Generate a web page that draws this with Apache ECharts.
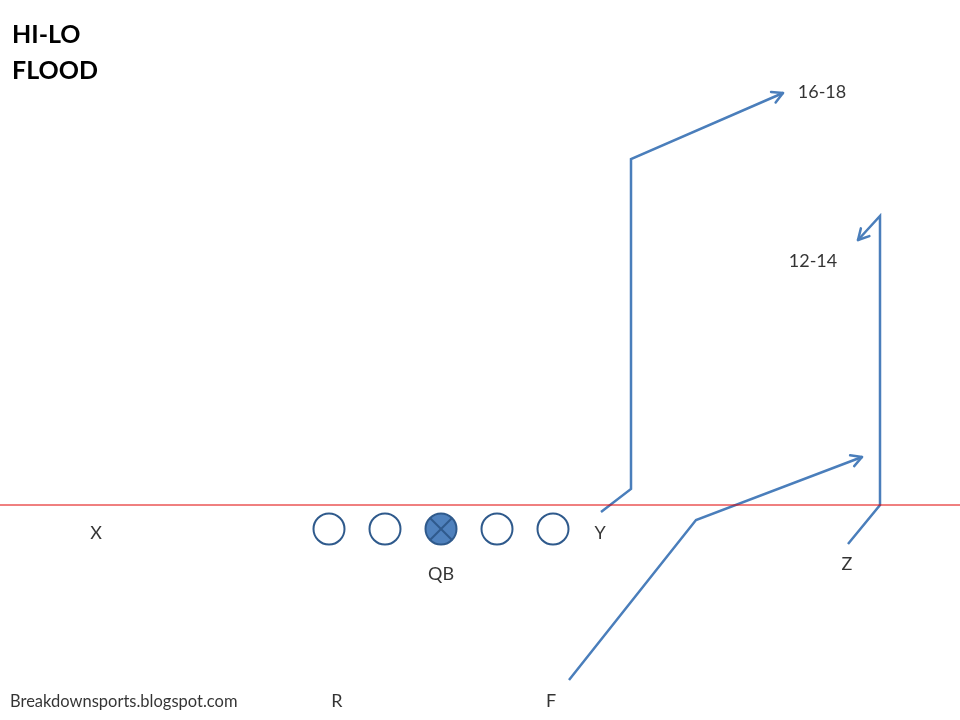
<!DOCTYPE html>
<html>
<head>
<meta charset="UTF-8">
<style>
  html, body { margin: 0; padding: 0; background: #fff; }
  #chartArea { width: 960px; height: 720px; }
</style>
</head>
<body>
<div id="chartArea"></div>
<script src="https://cdn.jsdelivr.net/npm/echarts@6/dist/echarts.min.js"></script>
<script>
// field coordinates (x to the right, y downward like the slide)
var scrimmageY = 505;
var linemen = [[329, 529], [385, 529], [497, 529], [553, 529]];
var qb = [[441, 529]];
var routeY = [[601, 512], [631, 489], [631, 159], [783, 93]];
var routeZ = [[848, 544], [880, 505], [880, 216], [858, 240]];
var routeF = [[569, 680], [696, 520], [862, 457]];
var playerLabels = [
    ['X', 96, 533], ['Y', 600, 533], ['Z', 847, 564], ['QB', 441, 574],
    ['R', 337, 701], ['F', 551, 701], ['16-18', 822, 92], ['12-14', 813, 261]
];
var credit = ['Breakdownsports.blogspot.com', 10, 702];

var blue = '#4a7ebb';

// open "V" head at the end of a route, built from its last leg
function arrowHead(route) {
    var a = route[route.length - 2], b = route[route.length - 1];
    var ang = Math.atan2(b[1] - a[1], b[0] - a[0]);
    var len = 12, spread = 0.5;
    return [
        { coords: [[b[0] - len * Math.cos(ang - spread), b[1] - len * Math.sin(ang - spread)], b] },
        { coords: [[b[0] - len * Math.cos(ang + spread), b[1] - len * Math.sin(ang + spread)], b] }
    ];
}

var myChart = echarts.init(document.getElementById('chartArea'));
myChart.setOption({
    animation: false,
    title: {
        text: 'HI-LO\nFLOOD',
        left: 7, top: 12,
        textStyle: { fontFamily: 'Lato', fontSize: 25, fontWeight: 'bold', color: '#000', lineHeight: 36 }
    },
    grid: { left: 0, right: 0, top: 0, bottom: 0 },
    xAxis: { type: 'value', min: 0, max: 960, show: false },
    yAxis: { type: 'value', min: 0, max: 720, inverse: true, show: false },
    series: [
        {
            type: 'line', silent: true, symbol: 'none', color: '#e00000',
            lineStyle: { color: '#e00000', width: 1 },
            data: [[0, scrimmageY], [960, scrimmageY]]
        },
        {
            type: 'lines', coordinateSystem: 'cartesian2d', polyline: true, silent: true,
            lineStyle: { color: blue, width: 2.5, opacity: 1 },
            data: [{ coords: routeY }, { coords: routeZ }, { coords: routeF }]
        },
        {
            type: 'lines', coordinateSystem: 'cartesian2d', silent: true,
            lineStyle: { color: blue, width: 2.5, opacity: 1, cap: 'round' },
            data: arrowHead(routeY).concat(arrowHead(routeZ), arrowHead(routeF))
        },
        {
            type: 'scatter', symbol: 'circle', symbolSize: 31, silent: true,
            itemStyle: { color: '#fff', borderColor: '#2f5a8c', borderWidth: 2, opacity: 1 },
            data: linemen
        },
        {
            type: 'scatter', symbol: 'circle', symbolSize: 31, silent: true,
            itemStyle: { color: '#4f81bd', borderColor: '#2f5a8c', borderWidth: 2, opacity: 1 },
            data: qb, z: 3
        },
        {
            type: 'lines', coordinateSystem: 'cartesian2d', silent: true, z: 4,
            lineStyle: { color: '#2f5a8c', width: 2, opacity: 1 },
            data: [
                { coords: [[qb[0][0] - 11, qb[0][1] - 11], [qb[0][0] + 11, qb[0][1] + 11]] },
                { coords: [[qb[0][0] + 11, qb[0][1] - 11], [qb[0][0] - 11, qb[0][1] + 11]] }
            ]
        },
        {
            type: 'scatter', symbolSize: 0, silent: true,
            label: {
                show: true, position: 'inside', fontFamily: 'Lato', fontSize: 18, color: '#000',
                formatter: function (p) { return p.data[2]; }
            },
            data: playerLabels.map(function (l) { return [l[1], l[2], l[0]]; })
        },
        {
            type: 'scatter', symbolSize: 0, silent: true,
            label: {
                show: true, position: 'right', distance: 0, fontFamily: 'Lato', fontSize: 16.5, color: '#000',
                formatter: function (p) { return p.data[2]; }
            },
            data: [[credit[1], credit[2], credit[0]]]
        }
    ]
});
</script>
</body>
</html>
